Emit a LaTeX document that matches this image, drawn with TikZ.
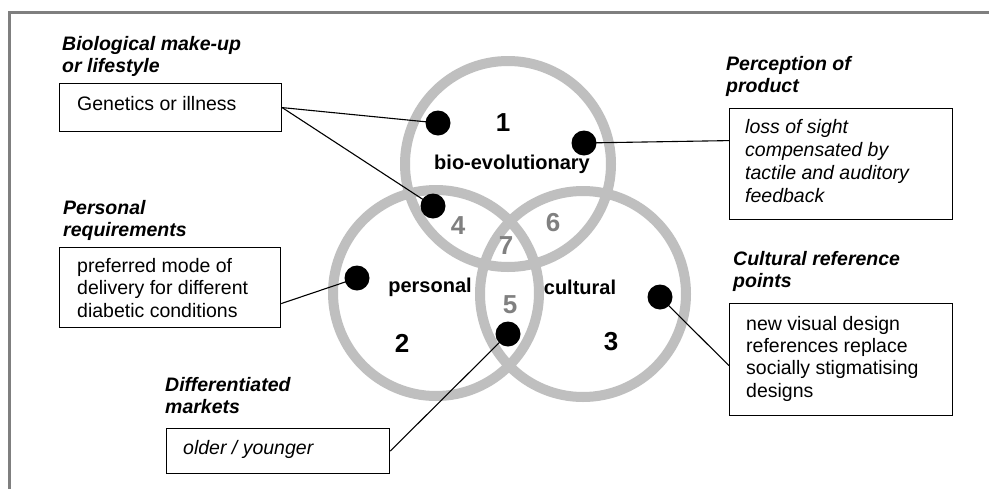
\documentclass[tikz,border=0pt]{standalone}
\usepackage{fontspec}
\setmainfont{Liberation Sans}
\usetikzlibrary{calc}
\definecolor{ringgray}{HTML}{BFBFBF}
\definecolor{numgray}{HTML}{808080}
\definecolor{framegray}{HTML}{7F7F7F}
\begin{document}
\begin{tikzpicture}[x=1pt,y=-1pt,
  ring/.style={draw=ringgray,line width=10pt},
  blob/.style={circle,fill=black,minimum size=25pt,inner sep=0pt},
  callout/.style={draw=black,line width=1.2pt,fill=white,anchor=north west,inner sep=0pt},
  link/.style={draw=black,line width=1.1pt},
  txt/.style={anchor=base west,inner sep=0pt,align=left,font=\fontsize{19.5}{22.5}\selectfont},
  heading/.style={txt,font=\fontsize{19.5}{22}\selectfont\bfseries\itshape},
  ringname/.style={inner sep=0pt,font=\fontsize{20}{22}\selectfont\bfseries},
  bignum/.style={inner sep=0pt,font=\fontsize{26}{28}\selectfont\bfseries},
  zonenum/.style={bignum,text=numgray}]
\useasboundingbox (0,0) rectangle (989,488);
\fill[white] (0,0) rectangle (989,488);

% outer frame, open to the right and bottom
\draw[framegray,line width=3pt] (9,500) -- (9,12) -- (1000,12);

% the three overlapping rings
\draw[ring] (508,164) circle[radius=103pt];
\draw[ring] (436,293) circle[radius=103pt];
\draw[ring] (583,294) circle[radius=103pt];

% ring names and zone numbers
\node[bignum] (n1) at (503,123) {1};
\node[ringname] (bio) at (512,164) {bio-evolutionary};
\node[ringname] (pers) at (430,287) {personal};
\node[ringname] (cult) at (580,287) {cultural};
\node[bignum] (n2) at (402,343) {2};
\node[bignum] (n3) at (611,342) {3};
\node[zonenum] (n4) at (458,226) {4};
\node[zonenum] (n6) at (553,223) {6};
\node[zonenum] (n7) at (506,246) {7};
\node[zonenum] (n5) at (510,305) {5};

% explanation boxes
\node[callout,minimum width=222pt,minimum height=48pt] (genbox) at (59,83) {};
\node[callout,minimum width=221pt,minimum height=80pt] (persbox) at (59,247) {};
\node[callout,minimum width=223pt,minimum height=45pt] (diffbox) at (166,428) {};
\node[callout,minimum width=223pt,minimum height=111pt] (percbox) at (729,108) {};
\node[callout,minimum width=223pt,minimum height=112pt] (cultbox) at (729,303) {};

% headings (placed by the baseline of their last line)
\node[heading] (hbio) at (62,72) {Biological make-up\\or lifestyle};
\node[heading] (hpers) at (63,236) {Personal\\requirements};
\node[heading] (hdiff) at (165,413) {Differentiated\\markets};
\node[heading] (hperc) at (726,92) {Perception of\\product};
\node[heading] (hcult) at (733,287) {Cultural reference\\points};

% box texts (placed by the baseline of their last line)
\node[txt] (tgen) at (77,110) {Genetics or illness};
\node[txt] (tpers) at (77,317) {preferred mode of\\delivery for different\\diabetic conditions};
\node[txt,font=\fontsize{19.5}{22.5}\selectfont\itshape] (tdiff) at (183,454) {older / younger};
\node[txt,font=\fontsize{19.5}{23}\selectfont\itshape] (tperc) at (745,202) {loss of sight\\compensated by\\tactile and auditory\\feedback};
\node[txt,font=\fontsize{19.5}{22.3}\selectfont] (tcult) at (746,397) {new visual design\\references replace\\socially stigmatising\\designs};

% marker dots
\node[blob] (dA) at (438,123) {};
\node[blob] (dB) at (433,206) {};
\node[blob] (dC) at (584,143) {};
\node[blob] (dD) at (357,278) {};
\node[blob] (dE) at (508,334) {};
\node[blob] (dF) at (660,297) {};

% connectors
\draw[link] (genbox.east) -- (dA.center);
\draw[link] (genbox.east) -- (dB.center);
\draw[link] (dC.center) -- ([yshift=23.5pt]percbox.west);
\draw[link] ([yshift=-16pt]persbox.east) -- (dD.center);
\draw[link] (diffbox.east) -- (dE.center);
\draw[link] (dF.center) -- ([yshift=-6pt]cultbox.west);
\end{tikzpicture}
\end{document}
